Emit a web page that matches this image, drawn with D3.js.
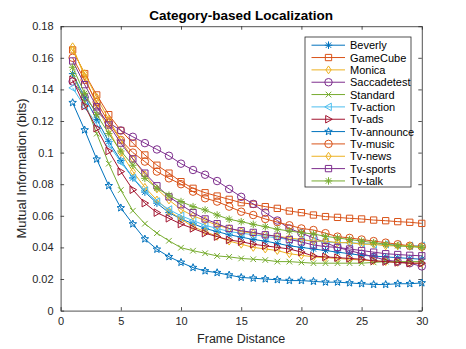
<!DOCTYPE html>
<html>
<head>
<meta charset="utf-8">
<script src="https://cdn.jsdelivr.net/npm/d3@7"></script>
<style>
  body { margin: 0; background: #fff; }
  svg { font-family: "Liberation Sans", Arial, sans-serif; }
</style>
</head>
<body>
<script>
var W = 466, H = 349;
var margin = {left: 60.6, right: 466 - 421.8, top: 26.2, bottom: 349 - 310.6};

// frame distances 1..30
var frames = d3.range(1, 31);
var seriesNames = ["Beverly", "GameCube", "Monica", "Saccadetest", "Standard", "Tv-action",
                   "Tv-ads", "Tv-announce", "Tv-music", "Tv-news", "Tv-sports", "Tv-talk"];
var colors = ["#0072BD", "#D95319", "#EDB120", "#7E2F8E", "#77AC30", "#4DBEEE",
              "#A2142F", "#0072BD", "#D95319", "#EDB120", "#7E2F8E", "#77AC30"];
var markers = ["asterisk", "square", "diamond", "circle", "cross", "left",
               "right", "star", "circle", "diamond", "square", "asterisk"];

var beverly = [0.150, 0.135, 0.121, 0.107, 0.095, 0.084, 0.075, 0.068, 0.062, 0.058,
               0.055, 0.052, 0.050, 0.048, 0.0465, 0.045, 0.044, 0.0425, 0.041, 0.040,
               0.039, 0.038, 0.037, 0.036, 0.035, 0.0345, 0.034, 0.0335, 0.033, 0.0325];
var gamecube = [0.165, 0.150, 0.1365, 0.124, 0.114, 0.106, 0.0985, 0.092, 0.087, 0.0816,
                0.0774, 0.0746, 0.0725, 0.0704, 0.0683, 0.0673, 0.0658, 0.0647, 0.063, 0.062,
                0.0605, 0.0595, 0.059, 0.0584, 0.058, 0.0573, 0.0569, 0.0563, 0.0559, 0.0552];
var monica = [0.167, 0.148, 0.130, 0.114, 0.100, 0.088, 0.078, 0.070, 0.063, 0.058,
              0.053, 0.050, 0.047, 0.044, 0.042, 0.040, 0.039, 0.038, 0.036, 0.035,
              0.034, 0.0335, 0.033, 0.0325, 0.032, 0.0315, 0.031, 0.0305, 0.030, 0.030];
var saccadetest = [0.145, 0.135, 0.126, 0.119, 0.114, 0.110, 0.106, 0.102, 0.098, 0.093,
                   0.089, 0.086, 0.082, 0.077, 0.072, 0.0675, 0.062, 0.057, 0.052, 0.049,
                   0.046, 0.043, 0.040, 0.038, 0.036, 0.034, 0.032, 0.031, 0.030, 0.028];
var standard = [0.150, 0.132, 0.112, 0.093, 0.0763, 0.0632, 0.055, 0.049, 0.0442, 0.0398,
                0.0379, 0.0363, 0.0346, 0.034, 0.033, 0.0325, 0.032, 0.031, 0.031, 0.0305,
                0.030, 0.030, 0.030, 0.030, 0.030, 0.0305, 0.031, 0.031, 0.031, 0.031];
var tvAction = [0.141, 0.129, 0.118, 0.105, 0.094, 0.084, 0.076, 0.069, 0.064, 0.060,
                0.057, 0.054, 0.052, 0.050, 0.049, 0.048, 0.047, 0.046, 0.045, 0.0445,
                0.044, 0.0435, 0.043, 0.043, 0.0425, 0.042, 0.042, 0.0415, 0.041, 0.041];
var tvAds = [0.146, 0.1295, 0.1154, 0.101, 0.088, 0.0765, 0.068, 0.062, 0.0584, 0.0548,
             0.052, 0.049, 0.0468, 0.0447, 0.0436, 0.042, 0.041, 0.040, 0.039, 0.037,
             0.0345, 0.034, 0.0335, 0.033, 0.0325, 0.0315, 0.031, 0.0305, 0.030, 0.030];
var tvAnnounce = [0.1316, 0.1143, 0.0958, 0.079, 0.065, 0.0548, 0.0453, 0.0388, 0.0341, 0.0305,
                  0.0272, 0.0251, 0.024, 0.0225, 0.021, 0.0205, 0.020, 0.0195, 0.019, 0.019,
                  0.0185, 0.018, 0.018, 0.0175, 0.017, 0.0165, 0.0165, 0.017, 0.017, 0.0175];
var tvMusic = [0.160, 0.146, 0.132, 0.119, 0.108, 0.100, 0.0943, 0.088, 0.0837, 0.080,
               0.0753, 0.0711, 0.069, 0.0658, 0.0626, 0.0605, 0.058, 0.056, 0.054, 0.052,
               0.051, 0.049, 0.0468, 0.046, 0.045, 0.044, 0.043, 0.042, 0.041, 0.0405];
var tvNews = [0.165, 0.150, 0.135, 0.121, 0.108, 0.096, 0.086, 0.077, 0.070, 0.064,
              0.060, 0.057, 0.054, 0.052, 0.050, 0.049, 0.048, 0.047, 0.046, 0.045,
              0.044, 0.044, 0.043, 0.043, 0.042, 0.042, 0.041, 0.041, 0.041, 0.040];
var tvSports = [0.158, 0.143, 0.129, 0.1175, 0.106, 0.096, 0.087, 0.079, 0.072, 0.067,
                0.062, 0.058, 0.055, 0.052, 0.0505, 0.0495, 0.048, 0.047, 0.045, 0.0435,
                0.0415, 0.0405, 0.040, 0.039, 0.038, 0.037, 0.036, 0.0355, 0.035, 0.0347];
var tvTalk = [0.154, 0.1375, 0.124, 0.112, 0.101, 0.092, 0.0837, 0.0774, 0.073, 0.069,
              0.0658, 0.0637, 0.0605, 0.0578, 0.0563, 0.0546, 0.0531, 0.0515, 0.0504, 0.0493,
              0.0485, 0.047, 0.046, 0.045, 0.044, 0.043, 0.042, 0.041, 0.0405, 0.040];

var seriesValues = [beverly, gamecube, monica, saccadetest, standard, tvAction,
                    tvAds, tvAnnounce, tvMusic, tvNews, tvSports, tvTalk];
var xTicks = [0, 5, 10, 15, 20, 25, 30];
var yTicks = [0, 0.02, 0.04, 0.06, 0.08, 0.1, 0.12, 0.14, 0.16, 0.18];

var svg = d3.select("body").append("svg")
    .attr("width", W).attr("height", H);

var x = d3.scaleLinear().domain([0, 30]).range([margin.left, W - margin.right]);
var y = d3.scaleLinear().domain([0, 0.18]).range([H - margin.bottom, margin.top]);

// marker shapes, size s is roughly the marker width
function markerPath(type, s) {
  var r = s / 2, p = d3.path();
  if (type == "circle") { p.moveTo(r, 0); p.arc(0, 0, r, 0, 2 * Math.PI); }
  else if (type == "square") { r = s * 0.42; p.rect(-r, -r, 2 * r, 2 * r); }
  else if (type == "diamond") { p.moveTo(0, -r * 1.05); p.lineTo(r * 0.7, 0); p.lineTo(0, r * 1.05); p.lineTo(-r * 0.7, 0); p.closePath(); }
  else if (type == "cross") { var c = r * 0.75; p.moveTo(-c, -c); p.lineTo(c, c); p.moveTo(-c, c); p.lineTo(c, -c); }
  else if (type == "asterisk") {
    var c2 = r * 0.72;
    p.moveTo(-r, 0); p.lineTo(r, 0); p.moveTo(0, -r); p.lineTo(0, r);
    p.moveTo(-c2, -c2); p.lineTo(c2, c2); p.moveTo(-c2, c2); p.lineTo(c2, -c2);
  }
  else if (type == "left") { p.moveTo(-r, 0); p.lineTo(r * 0.75, -r); p.lineTo(r * 0.75, r); p.closePath(); }
  else if (type == "right") { p.moveTo(r, 0); p.lineTo(-r * 0.75, -r); p.lineTo(-r * 0.75, r); p.closePath(); }
  else if (type == "star") {
    for (var i = 0; i < 10; i++) {
      var a = -Math.PI / 2 + i * Math.PI / 5, rr = (i % 2 ? r * 0.45 : r * 1.05);
      if (i == 0) p.moveTo(rr * Math.cos(a), rr * Math.sin(a));
      else p.lineTo(rr * Math.cos(a), rr * Math.sin(a));
    }
    p.closePath();
  }
  return p.toString();
}

// axes (ticks inside, box)
var xAxis = d3.axisBottom(x).tickValues(xTicks).tickSizeInner(-3.5).tickSizeOuter(0).tickPadding(7)
    .tickFormat(d3.format("d"));
var yAxis = d3.axisLeft(y).tickValues(yTicks).tickSizeInner(-3.5).tickSizeOuter(0).tickPadding(7)
    .tickFormat(function(d) { return d === 0 ? "0" : d3.format(".2~f")(d); });

var gx = svg.append("g").attr("transform", "translate(0," + y(0) + ")").call(xAxis);
var gy = svg.append("g").attr("transform", "translate(" + x(0) + ",0)").call(yAxis);
var gxTop = svg.append("g").attr("transform", "translate(0," + y(0.18) + ")")
    .call(d3.axisTop(x).tickValues(xTicks).tickSizeInner(-3.5).tickSizeOuter(0).tickFormat(""));
var gyRight = svg.append("g").attr("transform", "translate(" + x(30) + ",0)")
    .call(d3.axisRight(y).tickValues(yTicks).tickSizeInner(-3.5).tickSizeOuter(0).tickFormat(""));

[gx, gy, gxTop, gyRight].forEach(function(g) {
  g.selectAll("path.domain").attr("stroke", "#262626").attr("stroke-width", 0.8);
  g.selectAll(".tick line").attr("stroke", "#262626").attr("stroke-width", 0.8);
  g.selectAll(".tick text").attr("fill", "#262626").style("font-size", "11px")
    .style("font-family", "Liberation Sans, Arial, sans-serif");
});

// series
var line = d3.line().x(function(d, i) { return x(frames[i]); }).y(function(d) { return y(d); });
seriesValues.forEach(function(vals, k) {
  var g = svg.append("g").attr("class", "series");
  g.append("path").datum(vals).attr("d", line)
    .attr("fill", "none").attr("stroke", colors[k]).attr("stroke-width", 1);
  g.selectAll("path.mk").data(vals).enter().append("path").attr("class", "mk")
    .attr("transform", function(d, i) { return "translate(" + x(frames[i]) + "," + y(d) + ")"; })
    .attr("d", markerPath(markers[k], 7.5))
    .attr("fill", "none").attr("stroke", colors[k]).attr("stroke-width", 1);
});

// title and axis labels
svg.append("text").attr("x", (x(0) + x(30)) / 2).attr("y", 20).attr("text-anchor", "middle")
  .style("font-size", "13.5px").style("font-weight", "bold").attr("fill", "#000")
  .text("Category-based Localization");
svg.append("text").attr("x", (x(0) + x(30)) / 2).attr("y", 343).attr("text-anchor", "middle")
  .style("font-size", "12.5px").attr("fill", "#262626").text("Frame Distance");
svg.append("text").attr("transform", "translate(26," + (y(0) + y(0.18)) / 2 + ") rotate(-90)")
  .attr("text-anchor", "middle").style("font-size", "13px").attr("fill", "#262626")
  .text("Mutual Information (bits)");

// legend
var lg = svg.append("g").attr("transform", "translate(305,37)");
lg.append("rect").attr("width", 106).attr("height", 150)
  .attr("fill", "#fff").attr("stroke", "#262626").attr("stroke-width", 0.8);
seriesNames.forEach(function(name, k) {
  var yy = 8.2 + k * 12.34;
  lg.append("line").attr("x1", 6.5).attr("x2", 40).attr("y1", yy).attr("y2", yy)
    .attr("stroke", colors[k]).attr("stroke-width", 1);
  lg.append("path").attr("transform", "translate(23.5," + yy + ")")
    .attr("d", markerPath(markers[k], 7.5))
    .attr("fill", "none").attr("stroke", colors[k]).attr("stroke-width", 1);
  lg.append("text").attr("x", 45).attr("y", yy + 4).style("font-size", "11px")
    .attr("fill", "#000").text(name);
});
</script>
</body>
</html>
